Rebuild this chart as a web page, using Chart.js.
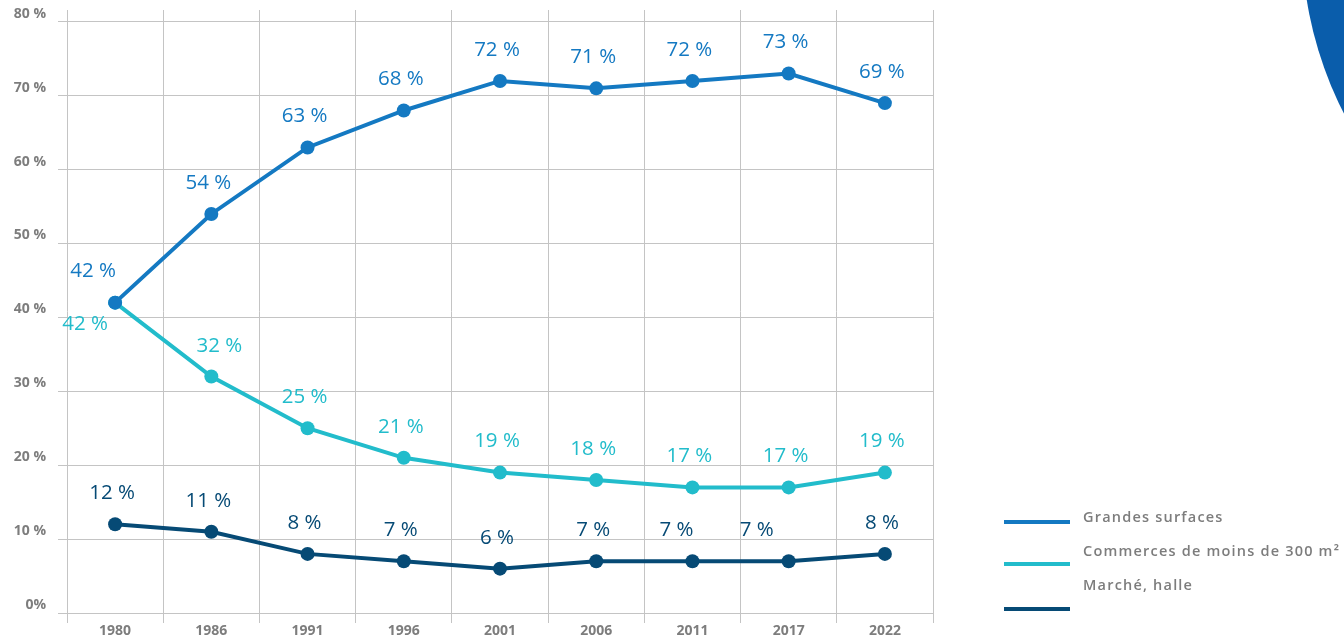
<!DOCTYPE html>
<html lang="fr">
<head>
<meta charset="utf-8">
<script src="https://cdn.jsdelivr.net/npm/chart.js@4.4.1/dist/chart.umd.min.js"></script>
<style>
  html, body { margin: 0; padding: 0; background: #fff; }
  #wrap { position: relative; width: 1344px; height: 635px; overflow: hidden; }
  #chart { position: absolute; left: 0; top: 0; }
  #blob { position: absolute; left: 1302px; top: -440px; width: 760px; height: 760px;
          border-radius: 50%; background: #0a5dab; }
  .lg-line { position: absolute; left: 1004px; width: 66px; height: 4px; }
  .lg-text { position: absolute; left: 1083px; font-family: "Open Sans", sans-serif; font-weight: 600;
             font-size: 14.5px; letter-spacing: 1.2px; color: #7d7d7d; white-space: nowrap; line-height: 18px; }
</style>
</head>
<body>
<div id="wrap">
  <canvas id="chart" width="1344" height="635"></canvas>
  <div id="blob"></div>
  <div id="legend"></div>
</div>
<script>
// Données
const years = ['1980', '1986', '1991', '1996', '2001', '2006', '2011', '2017', '2022'];
const grandesSurfaces = [42, 54, 63, 68, 72, 71, 72, 73, 69];
const petitsCommerces = [42, 32, 25, 21, 19, 18, 17, 17, 19];
const marcheHalle = [12, 11, 8, 7, 6, 7, 7, 7, 8];
const seriesNames = ['Grandes surfaces', 'Commerces de moins de 300 m²', 'Marché, halle'];
const yTicks = [0, 10, 20, 30, 40, 50, 60, 70, 80];
const yTickLabels = ['0%', '10 %', '20 %', '30 %', '40 %', '50 %', '60 %', '70 %', '80 %'];

const colors = ['#1479c2', '#22bccb', '#064a75'];

// Décalage de quelques étiquettes (dataset-index)
const labelShift = {
    '0-0': [-22, -31],
    '1-0': [-30, 22],
    '1-1': [8, -30],
    '2-6': [-16, -31],
    '2-7': [-32, -31]
};

function makeDataset(i, values) {
    return {
        label: seriesNames[i],
        data: values,
        borderColor: colors[i],
        backgroundColor: colors[i],
        borderWidth: 4,
        pointRadius: 7,
        pointHoverRadius: 7,
        pointBorderWidth: 0,
        tension: 0
    };
}

// Étiquettes de valeurs
const valueLabels = {
    id: 'valueLabels',
    afterDatasetsDraw(chart) {
        const ctx = chart.ctx;
        ctx.save();
        ctx.font = '20.5px "Open Sans", sans-serif';
        ctx.textAlign = 'center';
        ctx.textBaseline = 'middle';
        chart.data.datasets.forEach((ds, di) => {
            chart.getDatasetMeta(di).data.forEach((pt, i) => {
                const s = labelShift[di + '-' + i] || [-3, -31];
                ctx.fillStyle = colors[di];
                ctx.fillText(ds.data[i] + ' %', pt.x + s[0], pt.y + s[1]);
            });
        });
        ctx.restore();
    }
};

const ctx = document.getElementById('chart').getContext('2d');
new Chart(ctx, {
    type: 'line',
    data: {
        labels: years,
        datasets: [
            makeDataset(0, grandesSurfaces),
            makeDataset(1, petitsCommerces),
            makeDataset(2, marcheHalle)
        ]
    },
    options: {
        responsive: false,
        animation: false,
        layout: { padding: { top: 10, right: 411, bottom: 0, left: 0 } },
        plugins: { legend: { display: false }, tooltip: { enabled: false } },
        scales: {
            x: {
                offset: true,
                grid: { offset: true, color: '#c4c4c4', lineWidth: 1, tickLength: 10 },
                border: { display: false },
                ticks: { color: '#7d7d7d', padding: 0, font: { family: 'Open Sans', size: 14, weight: 'bold' } },
                afterFit(scale) { scale.height = 22; }
            },
            y: {
                min: 0,
                max: 81.6,
                afterBuildTicks(scale) { scale.ticks = yTicks.map(v => ({ value: v })); },
                grid: { color: '#c4c4c4', lineWidth: 1, tickLength: 9 },
                border: { display: false },
                ticks: {
                    color: '#7d7d7d',
                    padding: 12,
                    labelOffset: -8,
                    font: { family: 'Open Sans', size: 14, weight: 'bold' },
                    callback: (v) => yTickLabels[yTicks.indexOf(v)]
                },
                afterFit(scale) {
                    scale.width = 67;
                    scale.paddingTop = 0;
                    scale.paddingBottom = 0;
                }
            }
        }
    },
    plugins: [valueLabels]
});

// Légende
const lineTops = [520, 562, 607];
const textTops = [508, 542, 576];
const legend = document.getElementById('legend');
seriesNames.forEach((name, i) => {
    const l = document.createElement('div');
    l.className = 'lg-line';
    l.style.top = lineTops[i] + 'px';
    l.style.background = colors[i];
    legend.appendChild(l);
    const t = document.createElement('div');
    t.className = 'lg-text';
    t.style.top = textTops[i] + 'px';
    t.textContent = name;
    legend.appendChild(t);
});
</script>
</body>
</html>
